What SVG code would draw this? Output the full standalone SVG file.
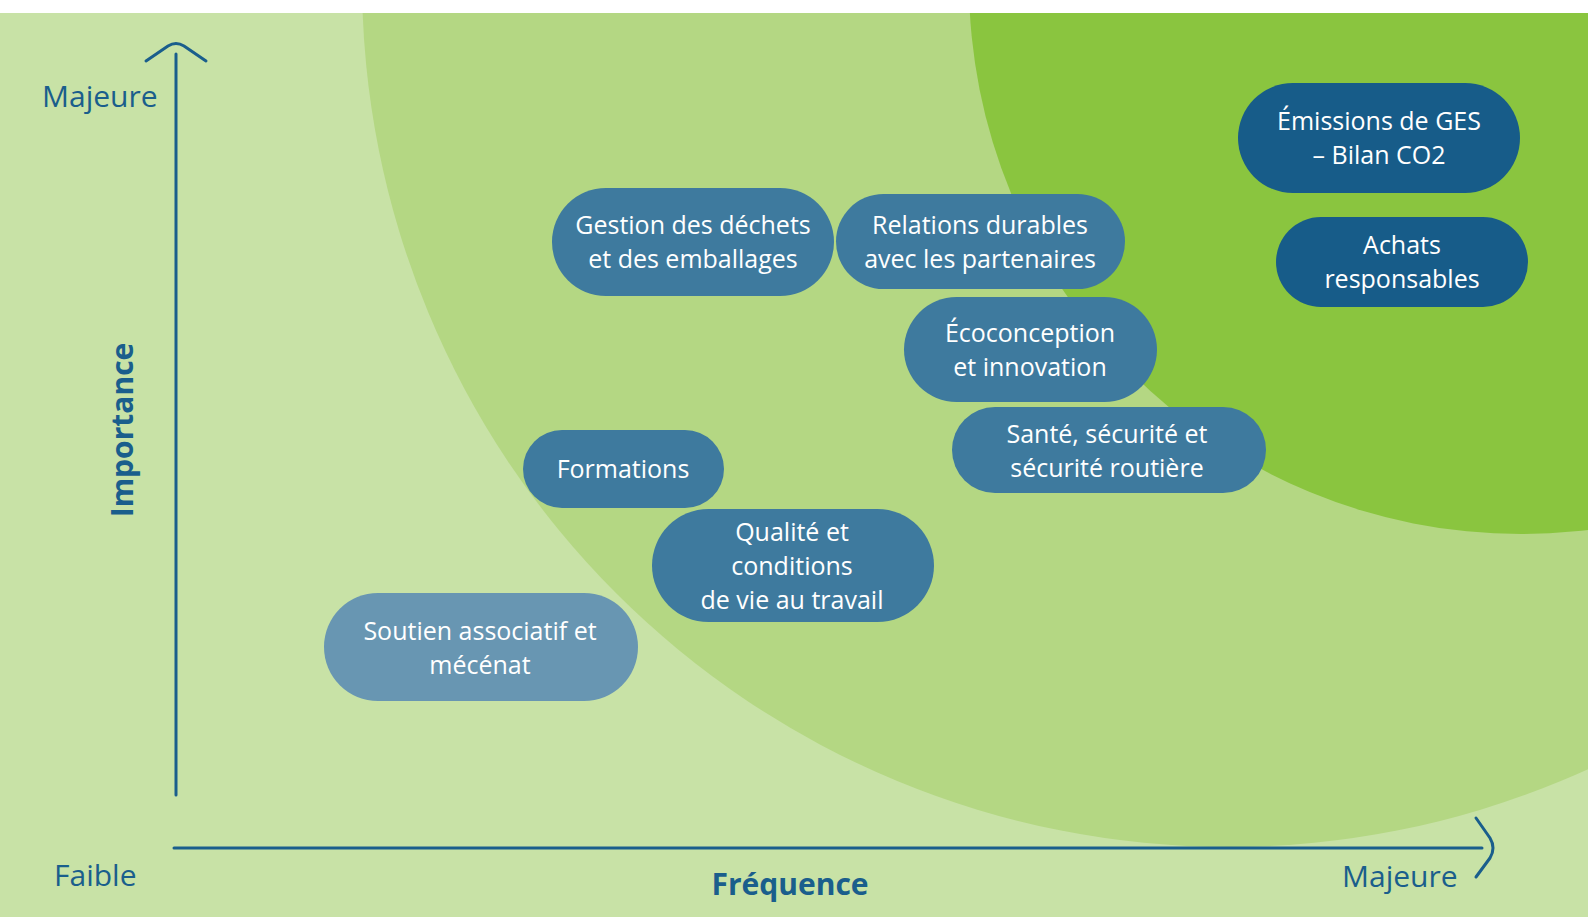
<svg xmlns="http://www.w3.org/2000/svg" width="1588" height="917" viewBox="0 0 1588 917">
  <style>
    .pill { stroke: none; }
    .dark { fill: #175c89; }
    .mid { fill: #3e7a9e; }
    .light { fill: #6896b2; }
    .nt { font-family: "Open Sans", "Noto Sans", sans-serif; font-size: 25px; fill: #ffffff; text-anchor: middle; }
    .ax { font-family: "Open Sans", "Noto Sans", sans-serif; font-size: 30px; fill: #1a5e8c; }
    .axb { font-family: "Open Sans", "Noto Sans", sans-serif; font-size: 30px; font-weight: bold; fill: #1a5e8c; text-anchor: middle; }
    .axis { fill: none; stroke: #1a5e8c; stroke-width: 3; stroke-linecap: round; stroke-linejoin: round; }
  </style>
  <defs>
    <clipPath id="clipArea"><rect x="0" y="13" width="1588" height="904"/></clipPath>
  </defs>
  <rect x="0" y="0" width="1588" height="917" fill="#ffffff"/>
  <g id="background">
    <rect x="0" y="13" width="1588" height="904" fill="#c8e2a6"/>
    <g clip-path="url(#clipArea)">
      <circle cx="1229" cy="-20" r="867" fill="#b4d783"/>
      <circle cx="1521" cy="-18" r="552" fill="#8ac53f"/>
    </g>
  </g>
  <g id="connectors">
    <line class="axis" x1="176" y1="54" x2="176" y2="795"/>
    <path class="axis" d="M146,61 L168,46 Q176,41 184,46 L206,61"/>
    <line class="axis" x1="174" y1="848" x2="1482" y2="848"/>
    <path class="axis" d="M1476,818 L1490,838 Q1496,848 1490,858 L1476,877"/>
  </g>
  <g id="labels">
    <text class="ax" x="42" y="107">Majeure</text>
    <text class="ax" x="54" y="886">Faible</text>
    <text class="ax" x="1342" y="887">Majeure</text>
    <text class="axb" x="790" y="895">Fréquence</text>
    <text class="axb" transform="translate(133,430) rotate(-90)" x="0" y="0">Importance</text>
  </g>
  <g id="node-emissions">
    <rect class="pill dark" x="1238" y="83" width="282" height="110" rx="55"/>
    <text class="nt" x="1379" y="130"><tspan x="1379">Émissions de GES</tspan><tspan x="1379" dy="34">– Bilan CO2</tspan></text>
  </g>
  <g id="node-achats">
    <rect class="pill dark" x="1276" y="217" width="252" height="90" rx="45"/>
    <text class="nt" x="1402" y="254"><tspan x="1402">Achats</tspan><tspan x="1402" dy="34">responsables</tspan></text>
  </g>
  <g id="node-gestion">
    <rect class="pill mid" x="552" y="188" width="282" height="108" rx="54"/>
    <text class="nt" x="693" y="234"><tspan x="693">Gestion des déchets</tspan><tspan x="693" dy="34">et des emballages</tspan></text>
  </g>
  <g id="node-relations">
    <rect class="pill mid" x="836" y="194" width="289" height="95" rx="47.5"/>
    <text class="nt" x="980" y="234"><tspan x="980">Relations durables</tspan><tspan x="980" dy="34">avec les partenaires</tspan></text>
  </g>
  <g id="node-ecoconception">
    <rect class="pill mid" x="904" y="297" width="253" height="105" rx="52.5"/>
    <text class="nt" x="1030" y="342"><tspan x="1030">Écoconception</tspan><tspan x="1030" dy="34">et innovation</tspan></text>
  </g>
  <g id="node-sante">
    <rect class="pill mid" x="952" y="407" width="314" height="86" rx="43"/>
    <text class="nt" x="1107" y="443"><tspan x="1107">Santé, sécurité et</tspan><tspan x="1107" dy="34">sécurité routière</tspan></text>
  </g>
  <g id="node-formations">
    <rect class="pill mid" x="523" y="430" width="201" height="78" rx="39"/>
    <text class="nt" x="623" y="478">Formations</text>
  </g>
  <g id="node-qualite">
    <rect class="pill mid" x="652" y="509" width="282" height="113" rx="56.5"/>
    <text class="nt" x="792" y="541"><tspan x="792">Qualité et</tspan><tspan x="792" dy="34">conditions</tspan><tspan x="792" dy="34">de vie au travail</tspan></text>
  </g>
  <g id="node-soutien">
    <rect class="pill light" x="324" y="593" width="314" height="108" rx="54"/>
    <text class="nt" x="480" y="640"><tspan x="480">Soutien associatif et</tspan><tspan x="480" dy="34">mécénat</tspan></text>
  </g>
</svg>
